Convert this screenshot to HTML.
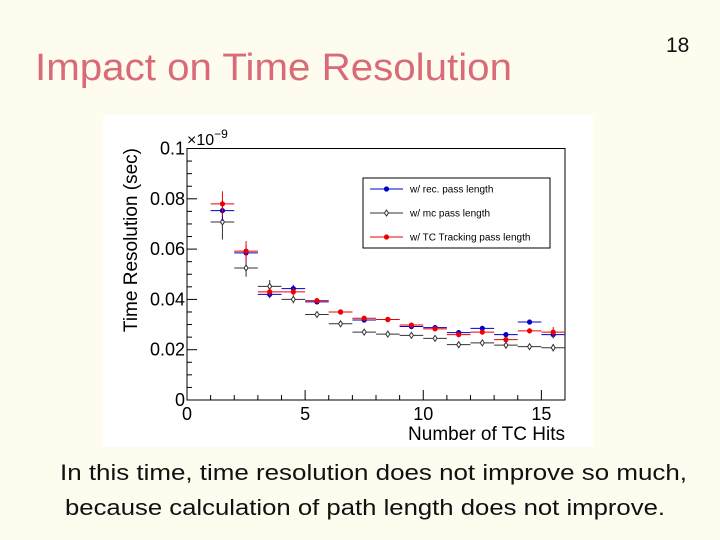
<!DOCTYPE html>
<html><head><meta charset="utf-8"><style>
html,body{margin:0;padding:0;background:#fdfcef;}
svg{display:block;font-family:"Liberation Sans",sans-serif;}
</style></head><body>
<svg width="720" height="540" viewBox="0 0 720 540">
<rect width="720" height="540" fill="#fdfcef"/>
<text x="35" y="80" font-size="38" fill="#d96a78" textLength="477" lengthAdjust="spacingAndGlyphs">Impact on Time Resolution</text>
<text x="666" y="52" font-size="21" fill="#111">18</text>
<rect x="103" y="115" width="490" height="332" fill="#fff"/>
<g id="chart"></g>
<text x="60" y="480" font-size="22" fill="#111" textLength="627" lengthAdjust="spacingAndGlyphs">In this time, time resolution does not improve so much,</text>
<text x="65" y="515" font-size="22" fill="#111" textLength="600" lengthAdjust="spacingAndGlyphs">because calculation of path length does not improve.</text>
</svg>
<script>
const bins=[1.5,2.5,3.5,4.5,5.5,6.5,7.5,8.5,9.5,10.5,11.5,12.5,13.5,14.5,15.5];
const recVals=[0.0753,0.0585,0.042,0.0443,0.039,0.035,0.0318,0.032,0.0292,0.0288,0.0268,0.0285,0.026,0.031,0.026];
const recErr=[0.004,0.003,0.0015,0.0015,0.001,0.001,0.001,0.001,0.001,0.001,0.001,0.001,0.001,0.001,0.0015];
const mcVals=[0.0708,0.0525,0.0452,0.040,0.034,0.0303,0.027,0.0262,0.0257,0.0245,0.022,0.0227,0.0218,0.0212,0.0208];
const mcErr=[0.007,0.0035,0.0025,0.0015,0.001,0.001,0.001,0.001,0.001,0.001,0.001,0.001,0.001,0.001,0.0015];
const tcVals=[0.078,0.0592,0.043,0.043,0.0395,0.035,0.0325,0.032,0.0298,0.0283,0.026,0.027,0.024,0.0275,0.027];
const tcErr=[0.005,0.004,0.0015,0.0015,0.001,0.001,0.001,0.001,0.001,0.001,0.001,0.001,0.001,0.001,0.002];
const xTicks=[0,5,10,15];
const yTicks=[0,0.02,0.04,0.06,0.08,0.1];
const yTickLabels=["0","0.02","0.04","0.06","0.08","0.1"];
const X0=187,X1=565,Y0=400,Y1=148.5;
const xs=v=>X0+(v/16)*(X1-X0);
const ys=v=>Y0-(v/0.1)*(Y0-Y1);
const NS="http://www.w3.org/2000/svg";
const g=document.getElementById('chart');
function mk(t,a,p){const e=document.createElementNS(NS,t);for(const k in a)e.setAttribute(k,a[k]);(p||g).appendChild(e);return e;}
let e=mk('rect',{x:X0,y:Y1,width:X1-X0,height:Y0-Y1,fill:'none',stroke:'#000','stroke-width':1});


for(let v=0;v<=16;v++){const L=v%5===0?10:5;mk('line',{x1:xs(v),x2:xs(v),y1:Y0,y2:Y0-L,stroke:'#000'});}
for(let i=0;i<=20;i++){const v=i*0.005;const L=i%4===0?10:5;mk('line',{x1:X0,x2:X0+L,y1:ys(v),y2:ys(v),stroke:'#000'});}
xTicks.forEach(v=>{const t=mk('text',{x:xs(v),y:Y0+20,'font-size':18,'text-anchor':'middle',fill:'#000'});t.textContent=v;

});
yTicks.forEach((v,i)=>{const t=mk('text',{x:X0-2,y:ys(v)+6,'font-size':18,'text-anchor':'end',fill:'#000'});t.textContent=yTickLabels[i];

});
let t=mk('text',{x:187,y:145,'font-size':16,fill:'#000'});t.innerHTML='×10<tspan dy="-7" font-size="12">−9</tspan>';


t=mk('text',{x:565,y:440,'font-size':19,'text-anchor':'end',fill:'#000'});t.textContent='Number of TC Hits';


t=mk('text',{x:0,y:0,'font-size':19,'text-anchor':'end',fill:'#000',transform:'translate(137,148) rotate(-90)'});t.textContent='Time Resolution (sec)';


function series(vals,errs,color,open,name){
 const sg=mk('g',{});
 
 
 bins.forEach((b,i)=>{
  mk('line',{x1:xs(b-0.5),x2:xs(b+0.5),y1:ys(vals[i]),y2:ys(vals[i]),stroke:color,'stroke-width':1},sg);
  mk('line',{x1:xs(b),x2:xs(b),y1:ys(vals[i]-errs[i]),y2:ys(vals[i]+errs[i]),stroke:color,'stroke-width':1},sg);
  let m;
  if(open){const x=xs(b),y=ys(vals[i]);m=mk('path',{d:`M${x} ${y-3}L${x+2} ${y}L${x} ${y+3}L${x-2} ${y}Z`,fill:'#fff',stroke:color},sg);}
  else m=mk('circle',{cx:xs(b),cy:ys(vals[i]),r:2.6,fill:color},sg);
  
  
 });
}
series(mcVals,mcErr,'#333',true,'series-mc');
series(recVals,recErr,'#0000cc',false,'series-rec');
series(tcVals,tcErr,'#ee0000',false,'series-tc');
const lg=mk('g',{});


mk('rect',{x:363,y:178,width:187,height:70,fill:'#fff',stroke:'#000'},lg);
const legNames=['w/ rec. pass length','w/ mc pass length','w/ TC Tracking pass length'];
const legCols=['#0000cc','#333','#ee0000'];
legNames.forEach((n,i)=>{const y=189+i*24;
 const eg=mk('g',{},lg);
 
 
 mk('line',{x1:370,x2:403,y1:y,y2:y,stroke:legCols[i]},eg);
 if(i===1)mk('path',{d:`M386.5 ${y-3}L388.5 ${y}L386.5 ${y+3}L384.5 ${y}Z`,fill:'#fff',stroke:'#333'},eg);
 else mk('circle',{cx:386.5,cy:y,r:2.6,fill:legCols[i]},eg);
 const tt=mk('text',{x:410,y:y+3.5,'font-size':10,fill:'#000'},eg);tt.textContent=n;});
</script>
</body></html>
